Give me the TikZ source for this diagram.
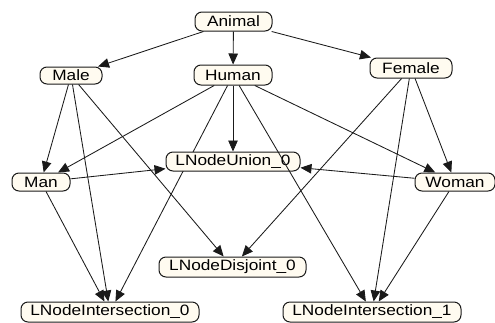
\documentclass[tikz,border=0pt]{standalone}
\usepackage{fontspec}
\setmainfont[FakeStretch=1.15]{Liberation Sans}
\usetikzlibrary{arrows.meta,backgrounds}
\definecolor{nodefill}{HTML}{FFFBF0}
\definecolor{linecol}{HTML}{1A1A1A}
\begin{document}
\begin{tikzpicture}[x=1pt,y=-1pt,
  cls/.style={draw=linecol, line width=1pt, fill=nodefill, rounded corners=7pt,
    inner sep=0pt, minimum height=19pt, font=\fontsize{15pt}{17pt}\selectfont},
  edge/.style={draw=linecol, line width=0.85pt, -{Triangle[length=11pt,width=9.5pt]}}]
\useasboundingbox (0,0) rectangle (495,322);
\node[cls, minimum width=77pt] (animal) at (233.5,21.5) {Animal};
\node[cls, minimum width=62pt, minimum height=17pt] (male) at (71,75.5) {Male};
\node[cls, minimum width=78pt, minimum height=20pt] (human) at (233,75) {Human};
\node[cls, minimum width=82pt, minimum height=20pt] (female) at (411,68) {Female};
\node[cls, minimum width=134pt] (union) at (233,161.5) {LNodeUnion\_0};
\node[cls, minimum width=58pt, minimum height=18pt] (man) at (41,182) {Man};
\node[cls, minimum width=80pt, minimum height=18pt] (woman) at (455,182) {Woman};
\node[cls, minimum width=147pt, minimum height=20pt] (disj) at (232.5,267) {LNodeDisjoint\_0};
\node[cls, minimum width=178pt, minimum height=20pt] (inter0) at (110,312) {LNodeIntersection\_0};
\node[cls, minimum width=178pt, minimum height=20pt] (inter1) at (372,312) {LNodeIntersection\_1};
\begin{pgfonlayer}{background}
\draw[edge] (human) -- (inter0);
\end{pgfonlayer}
\draw[edge] (animal) -- (male);
\draw[edge] (animal) -- (human);
\draw[edge] (animal) -- (female);
\draw[edge] (male) -- (man);
\draw[edge] (male) -- (inter0);
\draw[edge] (male) -- (disj);
\draw[edge] (human) -- (man);
\draw[edge] (human) -- (union);
\draw[edge] (human) -- (inter1);
\draw[edge] (human) -- (woman);
\draw[edge] (female) -- (disj);
\draw[edge] (female) -- (inter1);
\draw[edge] (female) -- (woman);
\draw[edge] (man) -- (union);
\draw[edge] (woman) -- (union);
\draw[edge] (man) -- (inter0);
\draw[edge] (woman) -- (inter1);
\end{tikzpicture}
\end{document}
